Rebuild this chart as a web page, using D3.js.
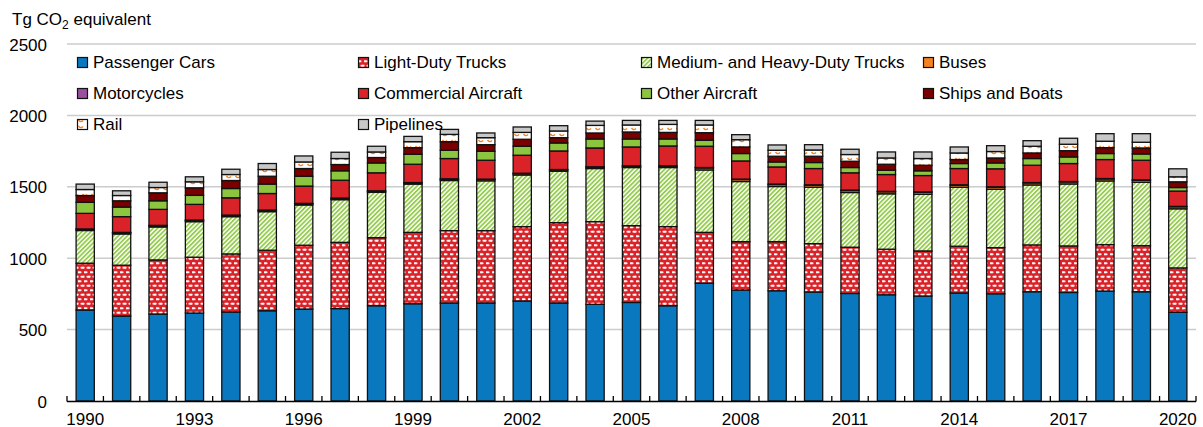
<!DOCTYPE html>
<html>
<head>
<meta charset="utf-8">
<script src="https://cdn.jsdelivr.net/npm/d3@7"></script>
<style>
    body { margin: 0; background: #fff; }
    #chart { width: 1203px; height: 427px; }
    text { font-family: "Liberation Sans", Arial, sans-serif; fill: #000; }
</style>
</head>
<body>
<div id="chart"></div>
<script>
// Tg CO2 equivalent by source, 1990-2020
const years = d3.range(1990, 2021);

const passengerCars = [637, 595, 609, 616, 623, 632, 644, 647, 667, 681, 686, 686, 700, 686, 677, 690, 667, 825, 777, 772, 763, 753, 744, 735, 756, 751, 765, 760, 770, 765, 621];
const lightDutyTrucks = [328, 356, 379, 391, 407, 424, 447, 464, 477, 500, 507, 507, 521, 563, 579, 538, 554, 356, 339, 344, 339, 324, 319, 316, 328, 323, 328, 326, 325, 323, 311];
const mediumHeavyTrucks = [229, 219, 231, 249, 261, 270, 282, 299, 317, 338, 351, 349, 362, 360, 372, 407, 414, 437, 421, 386, 395, 383, 388, 397, 413, 409, 420, 434, 446, 444, 414];
const buses = [9, 9, 9, 9, 9, 9, 9, 9, 9, 9, 10, 10, 10, 10, 10, 10, 10, 14, 14, 14, 14, 14, 14, 14, 14, 14, 14, 14, 14, 14, 14];
const motorcycles = [2, 2, 2, 2, 2, 2, 2, 2, 2, 2, 2, 2, 2, 2, 2, 2, 2, 3, 3, 3, 3, 3, 3, 3, 3, 3, 3, 3, 3, 3, 3];
const commercialAircraft = [109, 110, 112, 110, 121, 116, 121, 125, 126, 128, 142, 132, 126, 130, 132, 132, 139, 149, 127, 120, 114, 121, 118, 114, 114, 126, 121, 126, 133, 137, 107];
const otherAircraft = [77, 67, 60, 63, 65, 66, 69, 66, 69, 70, 58, 63, 63, 56, 63, 56, 49, 42, 52, 35, 42, 37, 30, 33, 35, 41, 47, 46, 42, 44, 25];
const shipsAndBoats = [48, 44, 56, 53, 56, 55, 54, 44, 38, 46, 60, 46, 49, 37, 42, 49, 46, 53, 46, 40, 44, 44, 42, 39, 28, 35, 39, 44, 41, 42, 40];
const rail = [42, 37, 37, 42, 42, 47, 46, 42, 39, 42, 51, 49, 48, 47, 53, 49, 56, 54, 51, 42, 44, 47, 44, 47, 46, 45, 47, 45, 45, 40, 35];
const pipelines = [38, 33, 37, 35, 37, 42, 42, 44, 40, 37, 35, 33, 38, 37, 30, 32, 28, 32, 35, 37, 37, 37, 42, 46, 42, 41, 39, 42, 53, 60, 56];

const seriesNames = ["Passenger Cars", "Light-Duty Trucks", "Medium- and Heavy-Duty Trucks", "Buses",
    "Motorcycles", "Commercial Aircraft", "Other Aircraft", "Ships and Boats", "Rail", "Pipelines"];
const seriesValues = [passengerCars, lightDutyTrucks, mediumHeavyTrucks, buses, motorcycles,
    commercialAircraft, otherAircraft, shipsAndBoats, rail, pipelines];

const yTicks = [0, 500, 1000, 1500, 2000, 2500];
const xLabelYears = [1990, 1993, 1996, 1999, 2002, 2005, 2008, 2011, 2014, 2017, 2020];

class StackedBarChart {
    constructor(parentElement) {
        this.parentElement = parentElement;
        this.width = 1203;
        this.height = 427;
        this.plot = {left: 67, right: 1196, top: 44, bottom: 401};

        // fills: plain colours or pattern ids
        this.fills = {
            "Passenger Cars": "#0a78bf",
            "Light-Duty Trucks": "url(#ldt)",
            "Medium- and Heavy-Duty Trucks": "url(#mhd)",
            "Buses": "#f58220",
            "Motorcycles": "#9b4f9e",
            "Commercial Aircraft": "#da2229",
            "Other Aircraft": "#8cc63f",
            "Ships and Boats": "#7a0000",
            "Rail": "url(#rail)",
            "Pipelines": "#c8c8c8"
        };

        this.initVis();
    }

    initVis() {
        let vis = this;

        vis.svg = d3.select("#" + vis.parentElement)
            .append("svg")
            .attr("width", vis.width)
            .attr("height", vis.height);

        vis.setupPatterns();

        vis.x = d3.scaleBand()
            .domain(years)
            .range([vis.plot.left, vis.plot.right])
            .paddingInner(0.5)
            .paddingOuter(0.25);

        vis.y = d3.scaleLinear()
            .domain([0, 2500])
            .range([vis.plot.bottom, vis.plot.top]);

        vis.wrangleData();
    }

    setupPatterns() {
        let vis = this;
        const defs = vis.svg.append("defs");

        // light-duty trucks: red with white dashes
        const ldt = defs.append("pattern")
            .attr("id", "ldt")
            .attr("patternUnits", "userSpaceOnUse")
            .attr("width", 6).attr("height", 9);
        ldt.append("rect").attr("width", 6).attr("height", 9).attr("fill", "#da2229");
        [[1.5, 2.2], [4.5, 6.7], [-1.5, 6.7]].forEach(([cx, cy]) => {
            ldt.append("ellipse").attr("cx", cx).attr("cy", cy)
                .attr("rx", 2.3).attr("ry", 1.3).attr("fill", "#f2a3a6");
            ldt.append("ellipse").attr("cx", cx).attr("cy", cy)
                .attr("rx", 1.8).attr("ry", 0.8).attr("fill", "#fff");
        });

        // medium/heavy trucks: green diagonal stripes on white
        const mhd = defs.append("pattern")
            .attr("id", "mhd")
            .attr("patternUnits", "userSpaceOnUse")
            .attr("width", 3.2).attr("height", 3.2)
            .attr("patternTransform", "rotate(45)");
        mhd.append("rect").attr("width", 3.2).attr("height", 3.2).attr("fill", "#fff");
        mhd.append("rect").attr("width", 1.8).attr("height", 3.2).attr("fill", "#95cc4e");

        // rail: white with orange squiggles
        const railP = defs.append("pattern")
            .attr("id", "rail")
            .attr("patternUnits", "userSpaceOnUse")
            .attr("width", 9).attr("height", 6);
        railP.append("rect").attr("width", 9).attr("height", 6).attr("fill", "#fff");
        railP.append("path")
            .attr("d", "M1.5,2 Q3.5,5 6,2.5")
            .attr("fill", "none")
            .attr("stroke", "#f58220")
            .attr("stroke-width", 1.4);
    }

    wrangleData() {
        let vis = this;

        vis.table = years.map((yr, i) => {
            let row = {year: yr};
            seriesNames.forEach((name, s) => { row[name] = seriesValues[s][i]; });
            return row;
        });

        vis.stackedData = d3.stack()
            .keys(seriesNames)
            .order(d3.stackOrderNone)(vis.table);

        vis.updateVis();
    }

    updateVis() {
        let vis = this;

        // gridlines
        vis.svg.append("g")
            .selectAll("line")
            .data(yTicks.filter(d => d > 0))
            .join("line")
            .attr("x1", vis.plot.left)
            .attr("x2", vis.plot.right)
            .attr("y1", d => vis.y(d))
            .attr("y2", d => vis.y(d))
            .attr("stroke", "#cccccc")
            .attr("stroke-width", 1.5);

        // y labels
        vis.svg.append("g")
            .selectAll("text")
            .data(yTicks)
            .join("text")
            .attr("x", 47)
            .attr("y", d => vis.y(d) + 6.5)
            .attr("text-anchor", "end")
            .style("font-size", "17px")
            .text(d => d);

        // title
        const title = vis.svg.append("text")
            .attr("x", 12)
            .attr("y", 25)
            .style("font-size", "17px");
        title.append("tspan").text("Tg CO");
        title.append("tspan").attr("dy", 4).style("font-size", "12px").text("2");
        title.append("tspan").attr("dy", -4).text(" equivalent");

        // bars
        vis.svg.append("g")
            .selectAll("g")
            .data(vis.stackedData)
            .join("g")
            .attr("fill", d => vis.fills[d.key])
            .selectAll("rect")
            .data(d => d)
            .join("rect")
            .attr("x", d => vis.x(d.data.year))
            .attr("width", vis.x.bandwidth())
            .attr("y", d => vis.y(d[1]))
            .attr("height", d => vis.y(d[0]) - vis.y(d[1]))
            .attr("stroke", "#111")
            .attr("stroke-width", 1.3);

        // x axis line and ticks at band boundaries
        const step = vis.x.step();
        const bounds = years.map(yr => vis.x(yr) - step * 0.25);
        bounds.push(vis.x(years[years.length - 1]) + vis.x.bandwidth() + step * 0.25);

        const axisG = vis.svg.append("g");
        axisG.append("line")
            .attr("x1", vis.plot.left)
            .attr("x2", bounds[bounds.length - 1])
            .attr("y1", vis.plot.bottom + 0.5)
            .attr("y2", vis.plot.bottom + 0.5)
            .attr("stroke", "#000")
            .attr("stroke-width", 1.5);
        axisG.selectAll(".tick")
            .data(bounds)
            .join("line")
            .attr("class", "tick")
            .attr("x1", d => d)
            .attr("x2", d => d)
            .attr("y1", vis.plot.bottom + 0.5)
            .attr("y2", vis.plot.bottom - 5)
            .attr("stroke", "#000")
            .attr("stroke-width", 1.3);
        axisG.selectAll("text")
            .data(xLabelYears)
            .join("text")
            .attr("x", d => vis.x(d) + vis.x.bandwidth() / 2)
            .attr("y", 424.5)
            .attr("text-anchor", "middle")
            .style("font-size", "17px")
            .text(d => d);

        // legend, 4 columns x 3 rows
        const colX = [77, 358, 641, 923];
        const rowY = [68, 99, 130];
        const legend = vis.svg.append("g")
            .selectAll("g")
            .data(seriesNames)
            .join("g")
            .attr("transform", (d, i) => `translate(${colX[i % 4]},${rowY[Math.floor(i / 4)]})`);
        legend.append("rect")
            .attr("x", 0.5)
            .attr("y", -10.5)
            .attr("width", 10)
            .attr("height", 10)
            .attr("fill", d => vis.fills[d])
            .attr("stroke", "#111")
            .attr("stroke-width", 1.2);
        legend.append("text")
            .attr("x", 16)
            .attr("y", 0)
            .style("font-size", "17px")
            .text(d => d);
    }
}

new StackedBarChart("chart");
</script>
</body>
</html>
